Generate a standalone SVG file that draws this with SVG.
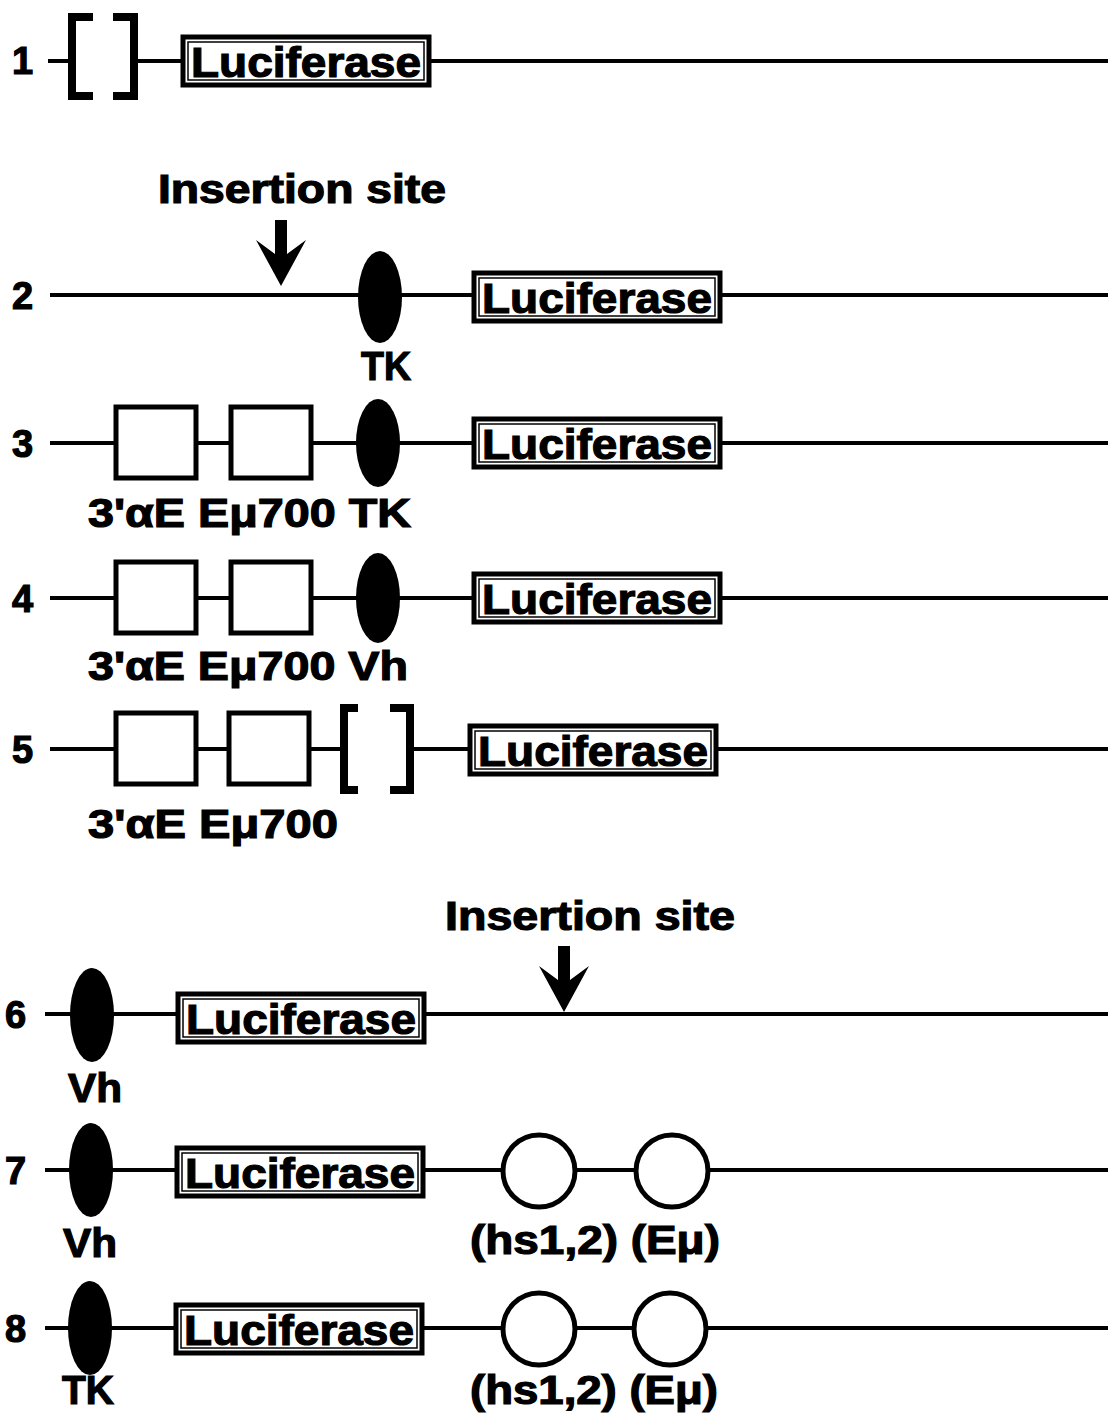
<svg xmlns="http://www.w3.org/2000/svg" width="1108" height="1416" viewBox="0 0 1108 1416">
<style>
text{font-family:"Liberation Sans",Arial,sans-serif;font-weight:bold;fill:#000;stroke:#000;stroke-width:1.2}
.num{font-size:38px}
.lbl{font-size:40px}
.luc{font-size:43px}
.ln{stroke:#000;stroke-width:4;fill:none}
.box{stroke:#000;stroke-width:5;fill:#fff}
.inner{stroke:#000;stroke-width:1.5;fill:none}
.ell{fill:#000}
.circ{stroke:#000;stroke-width:5;fill:#fff}
.brk{stroke:#000;stroke-width:8;fill:none;stroke-linejoin:miter}
</style>
<defs>
<g id="lucbox">
<rect class="box" x="0" y="-24" width="246" height="48"/>
<rect class="inner" x="5" y="-19" width="236" height="38"/>
<text class="luc" x="8" y="16" textLength="230" lengthAdjust="spacingAndGlyphs">Luciferase</text>
</g>
<polygon id="arr" points="-25,-26 -6,-12 -6,-46 6,-46 6,-12 25,-26 0,20" fill="#000"/>
</defs>
<g id="connectors">
<line class="ln" x1="48" y1="61" x2="72" y2="61"/>
<line class="ln" x1="134" y1="61" x2="1108" y2="61"/>
<line class="ln" x1="50" y1="295" x2="1108" y2="295"/>
<line class="ln" x1="50" y1="443" x2="1108" y2="443"/>
<line class="ln" x1="50" y1="598" x2="1108" y2="598"/>
<line class="ln" x1="50" y1="749" x2="344" y2="749"/>
<line class="ln" x1="410" y1="749" x2="1108" y2="749"/>
<line class="ln" x1="45" y1="1014" x2="1108" y2="1014"/>
<line class="ln" x1="45" y1="1170" x2="1108" y2="1170"/>
<line class="ln" x1="45" y1="1328" x2="1108" y2="1328"/>
<use id="arrow1" href="#arr" x="281" y="266"/>
<use id="arrow2" href="#arr" x="564" y="992"/>
</g>
<g id="row1">
<text class="num" x="12" y="74">1</text>
<path class="brk" d="M93,17 H72 V96 H93"/>
<path class="brk" d="M113,17 H134 V96 H113"/>
<use href="#lucbox" x="183" y="61"/>
</g>
<g id="insertion1"><text class="lbl" x="302" y="203" text-anchor="middle" textLength="288" lengthAdjust="spacingAndGlyphs">Insertion site</text></g>
<g id="row2">
<text class="num" x="12" y="309">2</text>
<ellipse class="ell" cx="380" cy="297" rx="22" ry="46"/>
<text class="lbl" x="386" y="380" text-anchor="middle" textLength="50" lengthAdjust="spacingAndGlyphs">TK</text>
<use href="#lucbox" x="474" y="297"/>
</g>
<g id="row3">
<text class="num" x="12" y="457">3</text>
<rect class="box" x="116" y="407" width="80" height="71"/>
<rect class="box" x="231" y="407" width="80" height="71"/>
<ellipse class="ell" cx="378" cy="443" rx="22" ry="44"/>
<use href="#lucbox" x="474" y="443"/>
<text class="lbl" x="88" y="527" textLength="323" lengthAdjust="spacingAndGlyphs">3'αE Eμ700 TK</text>
</g>
<g id="row4">
<text class="num" x="12" y="612">4</text>
<rect class="box" x="116" y="562" width="80" height="71"/>
<rect class="box" x="231" y="562" width="80" height="71"/>
<ellipse class="ell" cx="378" cy="598" rx="22" ry="45"/>
<use href="#lucbox" x="474" y="598"/>
<text class="lbl" x="88" y="680" textLength="320" lengthAdjust="spacingAndGlyphs">3'αE Eμ700 Vh</text>
</g>
<g id="row5">
<text class="num" x="12" y="763">5</text>
<rect class="box" x="116" y="713" width="80" height="71"/>
<rect class="box" x="229" y="713" width="80" height="71"/>
<path class="brk" d="M358,708 H344 V790 H358"/>
<path class="brk" d="M390,708 H410 V790 H390"/>
<use href="#lucbox" x="470" y="750"/>
<text class="lbl" x="88" y="838" textLength="250" lengthAdjust="spacingAndGlyphs">3'αE Eμ700</text>
</g>
<g id="insertion2"><text class="lbl" x="590" y="930" text-anchor="middle" textLength="290" lengthAdjust="spacingAndGlyphs">Insertion site</text></g>
<g id="row6">
<text class="num" x="5" y="1028">6</text>
<ellipse class="ell" cx="92" cy="1015" rx="22" ry="47"/>
<use href="#lucbox" x="178" y="1018"/>
<text class="lbl" x="95" y="1102" text-anchor="middle" textLength="54" lengthAdjust="spacingAndGlyphs">Vh</text>
</g>
<g id="row7">
<text class="num" x="5" y="1184">7</text>
<ellipse class="ell" cx="91" cy="1170" rx="22" ry="47"/>
<use href="#lucbox" x="177" y="1172"/>
<circle class="circ" cx="539" cy="1171" r="36"/>
<circle class="circ" cx="672" cy="1171" r="36"/>
<text class="lbl" x="90" y="1257" text-anchor="middle" textLength="54" lengthAdjust="spacingAndGlyphs">Vh</text>
<text class="lbl" x="470" y="1254" textLength="250" lengthAdjust="spacingAndGlyphs">(hs1,2) (Eμ)</text>
</g>
<g id="row8">
<text class="num" x="5" y="1342">8</text>
<ellipse class="ell" cx="90" cy="1328" rx="22" ry="47"/>
<use href="#lucbox" x="176" y="1329"/>
<circle class="circ" cx="539" cy="1329" r="36"/>
<circle class="circ" cx="670" cy="1329" r="36"/>
<text class="lbl" x="88" y="1404" text-anchor="middle" textLength="52" lengthAdjust="spacingAndGlyphs">TK</text>
<text class="lbl" x="470" y="1404" textLength="248" lengthAdjust="spacingAndGlyphs">(hs1,2) (Eμ)</text>
</g>
</svg>
